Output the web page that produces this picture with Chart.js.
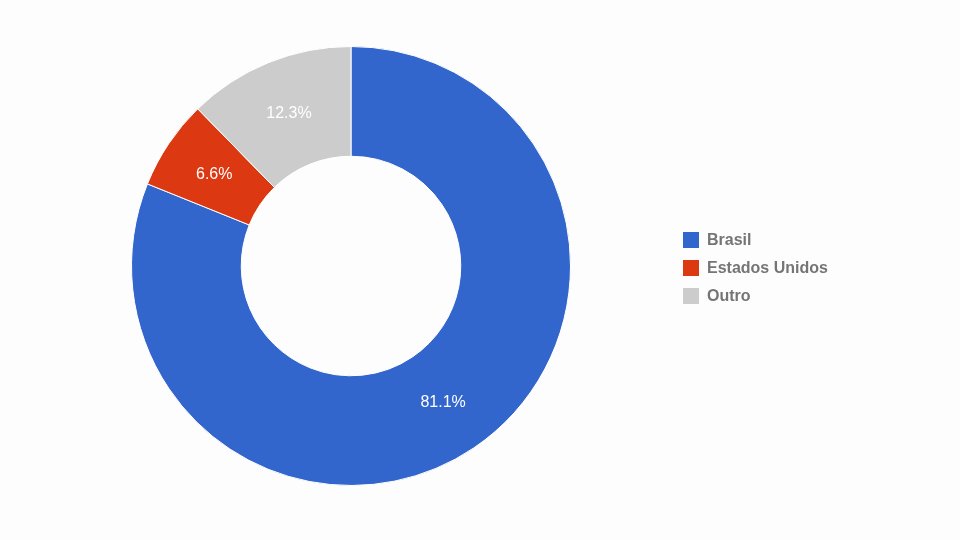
<!DOCTYPE html>
<html>
<head>
<meta charset="utf-8">
<script src="https://cdn.jsdelivr.net/npm/chart.js"></script>
<style>
  body { margin: 0; background: #fcfdfc; font-family: Arial, "Liberation Sans", sans-serif; }
  .wrap { position: relative; width: 960px; height: 540px; }
  .legend { position: absolute; left: 683px; top: 226px; }
  .legend div { height: 28px; font-size: 16px; font-weight: bold; color: #757575; display: flex; align-items: center; }
  .legend span { display: inline-block; width: 16px; height: 16px; margin-right: 8px; }
</style>
</head>
<body>
<div class="wrap">
  <canvas id="chart1" width="960" height="540"></canvas>
  <div class="legend" id="legend"></div>
</div>
<script>
var labels = ['Brasil', 'Estados Unidos', 'Outro'];
var values = [81.1, 6.6, 12.3];
var colors = ['#3366cc', '#dc3912', '#cccccc'];

// legenda a destra
var leg = document.getElementById('legend');
labels.forEach(function (l, i) {
  leg.innerHTML += '<div><span style="background:' + colors[i] + '"></span>' + l + '</div>';
});

// etichette percentuali sulle fette
var sliceLabels = {
  id: 'sliceLabels',
  afterDatasetsDraw: function (chart) {
    var ctx = chart.ctx;
    chart.getDatasetMeta(0).data.forEach(function (arc, i) {
      var p = arc.tooltipPosition();
      ctx.save();
      ctx.fillStyle = '#ffffff';
      ctx.font = '16px Arial, "Liberation Sans"';
      ctx.textAlign = 'center';
      ctx.textBaseline = 'middle';
      ctx.fillText(values[i].toFixed(1) + '%', p.x, p.y);
      ctx.restore();
    });
  }
};

new Chart(document.getElementById('chart1'), {
  type: 'doughnut',
  data: { labels: labels, datasets: [{ data: values, backgroundColor: colors, borderColor: '#ffffff', borderWidth: 1 }] },
  options: {
    responsive: false,
    animation: false,
    cutout: '50%',
    layout: { padding: { left: 131, top: 46, right: 389, bottom: 54 } },
    plugins: { legend: { display: false }, tooltip: { enabled: false } }
  },
  plugins: [sliceLabels]
});
</script>
</body>
</html>
